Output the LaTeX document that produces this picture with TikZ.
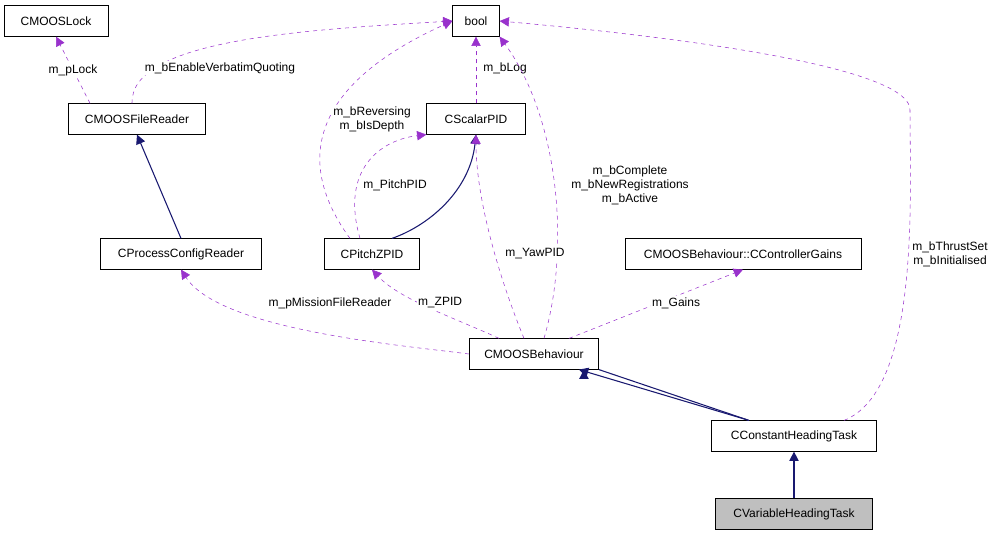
\documentclass[tikz,border=0pt]{standalone}
\usepackage{fontspec}
\setmainfont{Liberation Sans}
\usetikzlibrary{arrows.meta}
\begin{document}
\begin{tikzpicture}[x=0.75pt,y=-0.75pt,font=\fontsize{9}{10.5}\selectfont,
 box/.style={draw,rectangle,minimum height=23pt,inner sep=2pt,fill=white},
 use/.style={draw=violet!80!magenta,dashed,-{Triangle[length=7pt,width=7pt]},color={rgb,255:red,153;green,50;blue,204}},
 inh/.style={draw={rgb,255:red,25;green,25;blue,112},thick,-{Triangle[length=7pt,width=7pt]}},
 lbl/.style={align=center,fill=white,inner sep=1pt}]
\useasboundingbox (0,0) rectangle (999,533);
\node[box,minimum width=78pt] (lock) at (56,21) {CMOOSLock};
\node[box,minimum width=35pt] (bool) at (476,21) {bool};
\node[box,minimum width=103pt] (fr) at (137,119) {CMOOSFileReader};
\node[box,minimum width=74pt] (spid) at (476,119) {CScalarPID};
\node[box,minimum width=121pt] (pcr) at (181,254) {CProcessConfigReader};
\node[box,minimum width=71pt] (pz) at (372,254) {CPitchZPID};
\node[box,minimum width=177pt] (cg) at (743,254) {CMOOSBehaviour::CControllerGains};
\node[box,minimum width=97pt] (mb) at (534,354) {CMOOSBehaviour};
\node[box,minimum width=124pt] (cht) at (794,436) {CConstantHeadingTask};
\node[box,minimum width=118pt,fill=black!25] (vht) at (794,514) {CVariableHeadingTask};

\draw[use] (fr.north west) ++(22,0) -- (lock.south) node[lbl,midway,text=black] {m\_pLock};
\draw[use] (fr.north) ++(-5,0) .. controls (130,40) and (300,30) .. (bool.west);
\node[lbl] at (220,68) {m\_bEnableVerbatimQuoting};
\draw[inh] (pcr.north) -- (fr.south);
\draw[inh] (pz.north) ++(20,0) .. controls (430,225) and (470,190) .. (spid.south);
\draw[use] (spid.north) -- (bool.south);
\node[lbl] at (505,68) {m\_bLog};
\draw[use] (pz.north) ++(-22,0) .. controls (300,170) and (300,90) .. (bool.west);
\draw[use] (pz.north) ++(-12,0) .. controls (340,170) and (380,140) .. (spid.south west);
\node[lbl] at (372,119) {m\_bReversing\\m\_bIsDepth};
\node[lbl] at (395,185) {m\_PitchPID};
\draw[use] (mb.north) ++(10,0) .. controls (570,250) and (560,120) .. (bool.south east);
\node[lbl] at (630,185) {m\_bComplete\\m\_bNewRegistrations\\m\_bActive};
\draw[use] (mb.north) ++(-10,0) .. controls (500,280) and (476,200) .. (spid.south);
\node[lbl] at (535,254) {m\_YawPID};
\draw[use] (mb.north west) ++(30,0) .. controls (460,320) and (400,300) .. (pz.south);
\node[lbl] at (440,303) {m\_ZPID};
\draw[use] (mb.west) .. controls (400,345) and (220,330) .. (pcr.south);
\node[lbl] at (330,303) {m\_pMissionFileReader};
\draw[use] (mb.north east) ++(-30,0) -- (cg.south);
\node[lbl] at (676,303) {m\_Gains};
\draw[inh] (cht.north) ++(-45,0) -- (mb.south east) ++(-15,0);
\draw[inh] (cht.north) ++(-45,0) -- ([xshift=-15pt]mb.south east);
\draw[use] (cht.north) ++(50,0) .. controls (920,390) and (910,200) .. (910,110) .. controls (910,60) and (600,30) .. (bool.east);
\node[lbl] at (950,254) {m\_bThrustSet\\m\_bInitialised};
\draw[inh] (vht.north) -- (cht.south);
\end{tikzpicture}
\end{document}
